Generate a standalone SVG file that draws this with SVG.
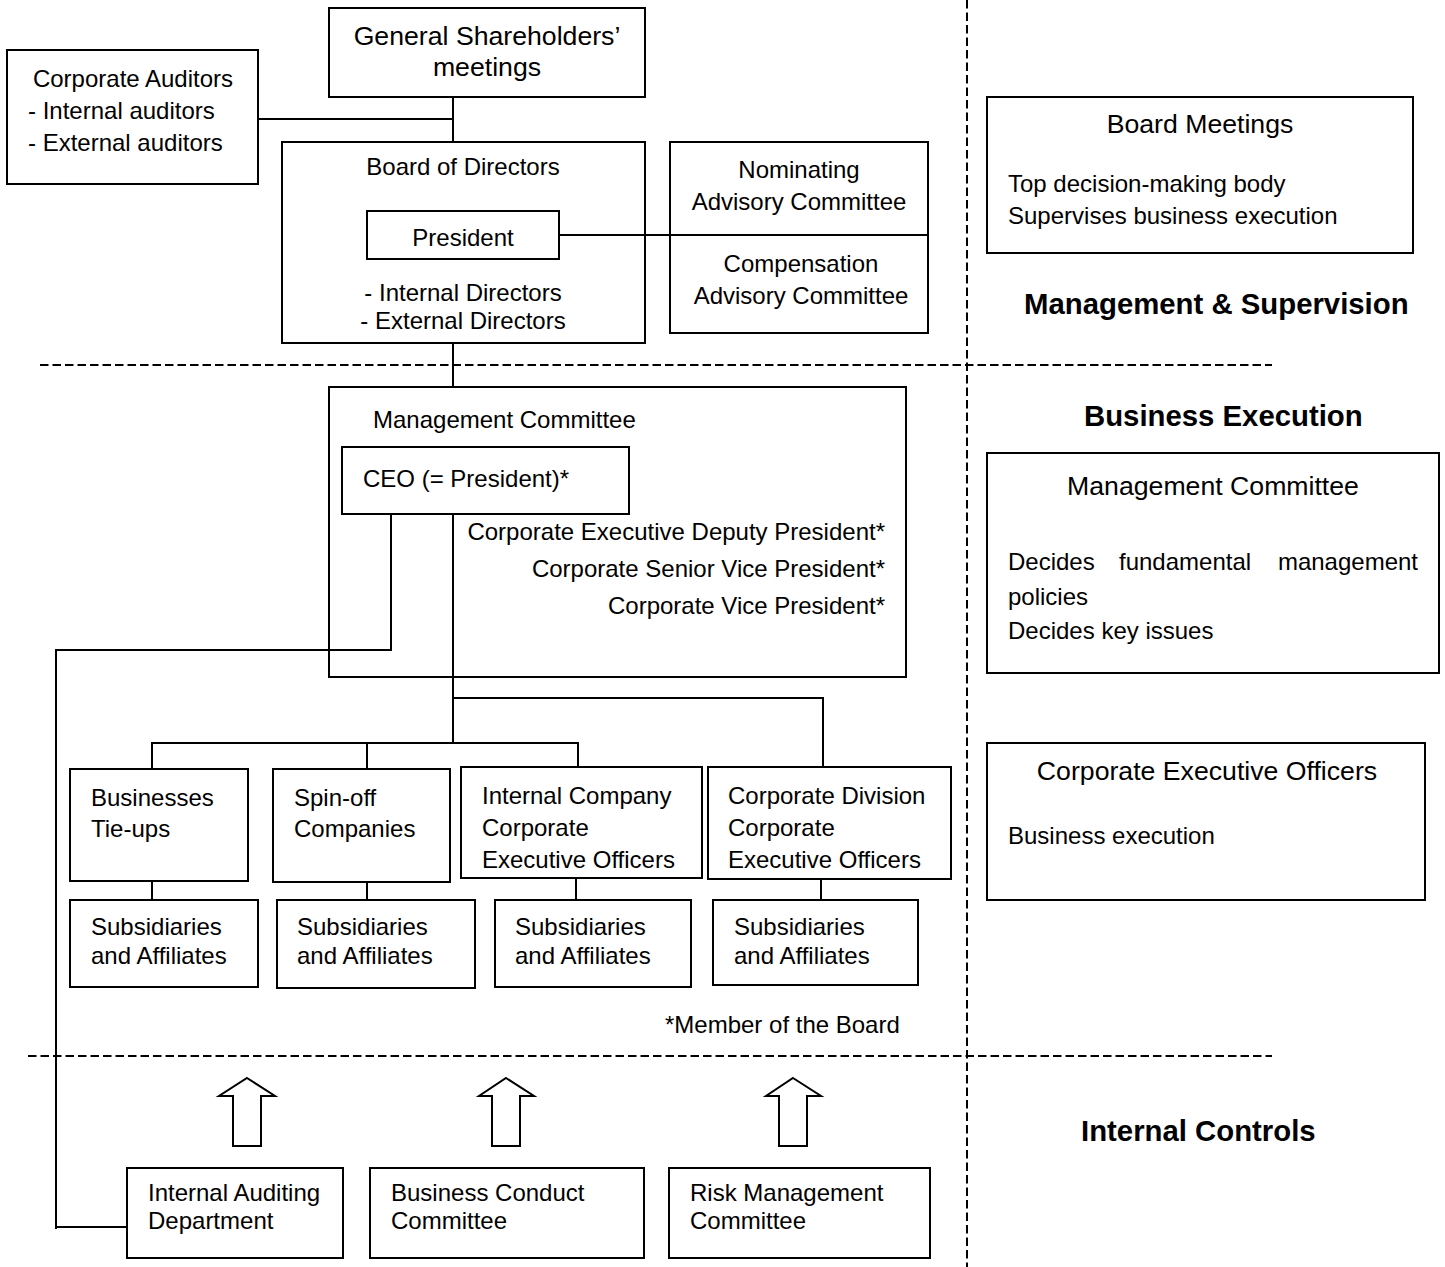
<svg xmlns="http://www.w3.org/2000/svg" width="1445" height="1267" viewBox="0 0 1445 1267">
<style>
.b{fill:none;stroke:#000;stroke-width:2}
.l{fill:none;stroke:#000;stroke-width:2}
.d{fill:none;stroke:#000;stroke-width:2;stroke-dasharray:8.5 4}
text{font-family:"Liberation Sans",Arial,sans-serif;font-size:24px;fill:#000}
.t{font-size:26.67px}
.h{font-size:29.33px;font-weight:bold}
.c{text-anchor:middle}
.r{text-anchor:end}
</style>
<rect width="1445" height="1267" fill="#fff"/>
<g id="dividers">
<line class="d" x1="967" y1="0" x2="967" y2="1267"/>
<line class="d" x1="40" y1="365" x2="1272" y2="365"/>
<line class="d" x1="28" y1="1056" x2="1272" y2="1056"/>
</g>
<g id="connectors">
<line class="l" x1="453" y1="97" x2="453" y2="142"/>
<line class="l" x1="258" y1="119" x2="453" y2="119"/>
<line class="l" x1="559" y1="235" x2="680" y2="235"/>
<line class="l" x1="453" y1="343" x2="453" y2="387"/>
<polyline class="l" points="391,514 391,650 56,650 56,1229"/>
<line class="l" x1="56" y1="1227" x2="127" y2="1227"/>
<line class="l" x1="453" y1="514" x2="453" y2="743"/>
<polyline class="l" points="453,698 823,698 823,767"/>
<polyline class="l" points="152,769 152,743 578,743 578,767"/>
<line class="l" x1="367" y1="743" x2="367" y2="769"/>
<line class="l" x1="152" y1="881" x2="152" y2="900"/>
<line class="l" x1="367" y1="882" x2="367" y2="900"/>
<line class="l" x1="576" y1="878" x2="576" y2="900"/>
<line class="l" x1="821" y1="879" x2="821" y2="900"/>
</g>
<g id="shareholders">
<rect class="b" x="329" y="8" width="316" height="89"/>
<text class="t c" x="487" y="45">General Shareholders’</text>
<text class="t c" x="487" y="76">meetings</text>
</g>
<g id="auditors">
<rect class="b" x="7" y="50" width="251" height="134"/>
<text class="c" x="133" y="87">Corporate Auditors</text>
<text x="28" y="119">- Internal auditors</text>
<text x="28" y="151">- External auditors</text>
</g>
<g id="board">
<rect class="b" x="282" y="142" width="363" height="201"/>
<text class="c" x="463" y="175">Board of Directors</text>
<text class="c" x="463" y="301">- Internal Directors</text>
<text class="c" x="463" y="329">- External Directors</text>
</g>
<g id="president">
<rect class="b" x="367" y="211" width="192" height="48"/>
<text class="c" x="463" y="246">President</text>
</g>
<g id="committees">
<rect class="b" x="670" y="142" width="258" height="191"/>
<line class="l" x1="670" y1="235" x2="928" y2="235"/>
<text class="c" x="799" y="178">Nominating</text>
<text class="c" x="799" y="210">Advisory Committee</text>
<text class="c" x="801" y="272">Compensation</text>
<text class="c" x="801" y="304">Advisory Committee</text>
</g>
<g id="management-committee">
<rect class="b" x="329" y="387" width="577" height="290"/>
<text x="373" y="428">Management Committee</text>
<text class="r" x="885" y="540">Corporate Executive Deputy President*</text>
<text class="r" x="885" y="577">Corporate Senior Vice President*</text>
<text class="r" x="885" y="614">Corporate Vice President*</text>
</g>
<g id="ceo">
<rect class="b" x="342" y="447" width="287" height="67"/>
<text x="363" y="487">CEO (= President)*</text>
</g>
<g id="tieups">
<rect class="b" x="70" y="769" width="178" height="112"/>
<text x="91" y="806">Businesses</text>
<text x="91" y="837">Tie-ups</text>
</g>
<g id="spinoff">
<rect class="b" x="273" y="769" width="177" height="113"/>
<text x="294" y="806">Spin-off</text>
<text x="294" y="837">Companies</text>
</g>
<g id="internal-company">
<rect class="b" x="461" y="767" width="241" height="111"/>
<text x="482" y="804">Internal Company</text>
<text x="482" y="836">Corporate</text>
<text x="482" y="868">Executive Officers</text>
</g>
<g id="corporate-division">
<rect class="b" x="708" y="767" width="243" height="112"/>
<text x="728" y="804">Corporate Division</text>
<text x="728" y="836">Corporate</text>
<text x="728" y="868">Executive Officers</text>
</g>
<g id="subs1">
<rect class="b" x="70" y="900" width="188" height="87"/>
<text x="91" y="935">Subsidiaries</text>
<text x="91" y="964">and Affiliates</text>
</g>
<g id="subs2">
<rect class="b" x="277" y="900" width="198" height="88"/>
<text x="297" y="935">Subsidiaries</text>
<text x="297" y="964">and Affiliates</text>
</g>
<g id="subs3">
<rect class="b" x="495" y="900" width="196" height="87"/>
<text x="515" y="935">Subsidiaries</text>
<text x="515" y="964">and Affiliates</text>
</g>
<g id="subs4">
<rect class="b" x="713" y="900" width="205" height="85"/>
<text x="734" y="935">Subsidiaries</text>
<text x="734" y="964">and Affiliates</text>
</g>
<g id="note">
<text x="665" y="1033">*Member of the Board</text>
</g>
<g id="arrows">
<polygon class="b" points="247,1078 275,1096 261,1096 261,1146 233,1146 233,1096 219,1096"/>
<polygon class="b" points="506,1078 534,1096 520,1096 520,1146 492,1146 492,1096 479,1096"/>
<polygon class="b" points="793,1078 821,1096 807,1096 807,1146 779,1146 779,1096 766,1096"/>
</g>
<g id="internal-auditing">
<rect class="b" x="127" y="1168" width="216" height="90"/>
<text x="148" y="1201">Internal Auditing</text>
<text x="148" y="1229">Department</text>
</g>
<g id="business-conduct">
<rect class="b" x="370" y="1168" width="274" height="90"/>
<text x="391" y="1201">Business Conduct</text>
<text x="391" y="1229">Committee</text>
</g>
<g id="risk-management">
<rect class="b" x="669" y="1168" width="261" height="90"/>
<text x="690" y="1201">Risk Management</text>
<text x="690" y="1229">Committee</text>
</g>
<g id="legend-board">
<rect class="b" x="987" y="97" width="426" height="156"/>
<text class="t c" x="1200" y="133">Board Meetings</text>
<text x="1008" y="192">Top decision-making body</text>
<text x="1008" y="224">Supervises business execution</text>
</g>
<text class="h" x="1024" y="314">Management &amp; Supervision</text>
<text class="h" x="1084" y="426">Business Execution</text>
<g id="legend-mc">
<rect class="b" x="987" y="453" width="452" height="220"/>
<text class="t c" x="1213" y="495">Management Committee</text>
<text x="1008" y="570">Decides</text>
<text x="1119" y="570">fundamental</text>
<text class="r" x="1418" y="570">management</text>
<text x="1008" y="605">policies</text>
<text x="1008" y="639">Decides key issues</text>
</g>
<g id="legend-ceo">
<rect class="b" x="987" y="743" width="438" height="157"/>
<text class="t c" x="1207" y="780">Corporate Executive Officers</text>
<text x="1008" y="844">Business execution</text>
</g>
<text class="h" x="1081" y="1141">Internal Controls</text>
</svg>
